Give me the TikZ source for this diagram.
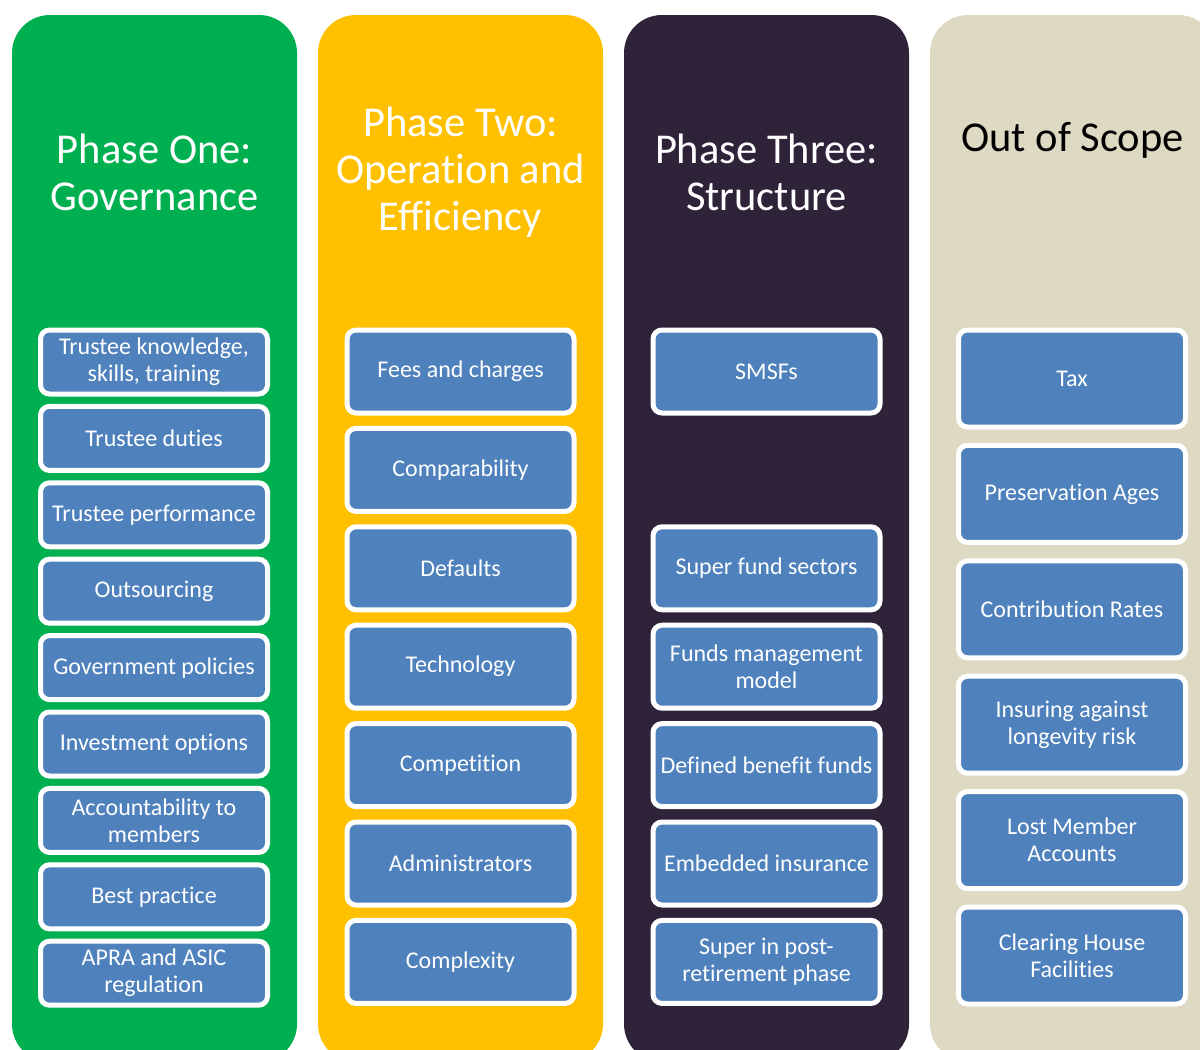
\documentclass[tikz,border=0pt]{standalone}
\usepackage{fontspec}
\setmainfont{Carlito}[Ligatures=NoCommon]
\definecolor{cgreen}{HTML}{00B050}
\definecolor{cyellow}{HTML}{FFC000}
\definecolor{cdark}{HTML}{2F2339}
\definecolor{ctan}{HTML}{DDD9C3}
\definecolor{cblue}{HTML}{4F81BD}
\begin{document}
\begin{tikzpicture}[x=1pt,y=-1pt,
  column/.style={rounded corners=38pt},
  title/.style={align=center,font=\fontsize{42.5}{47}\selectfont},
  item/.style={draw=white,line width=5pt,fill=cblue,rounded corners=9pt,text=white,
     align=center,font=\fontsize{24}{27}\selectfont,minimum width=227pt,inner sep=2pt},
  itemA/.style={item,minimum height=64pt},
  itemB/.style={item,minimum height=83pt},
  itemC/.style={item,minimum height=97pt}]
\useasboundingbox (0,0) rectangle (1200,1050);
\begin{scope}
\clip (0,0) rectangle (1200,1050);
\fill[cgreen,column] (12,15) rectangle (297,1062);
\fill[cyellow,column] (318,15) rectangle (603,1062);
\fill[cdark,column] (624,15) rectangle (909,1062);
\fill[ctan,column] (930,15) rectangle (1216,1062);
\end{scope}
% titles
\node[title,text=white] (t1) at (154.5,172) {Phase One:\\Governance};
\node[title,text=white] (t2) at (460.5,172) {Phase Two:\\Operation and\\Efficiency};
\node[title,text=white] (t3) at (766.5,172) {Phase Three:\\Structure};
\node[title,text=black] (t4) at (1072.5,140) {Out of Scope};
% column 1
\node[itemA] (a1) at (154,362) {Trustee knowledge,\\skills, training};
\node[itemA] (a2) at (154,438.4) {Trustee duties};
\node[itemA] (a3) at (154,514.8) {Trustee performance};
\node[itemA] (a4) at (154,591.2) {Outsourcing};
\node[itemA] (a5) at (154,667.6) {Government policies};
\node[itemA] (a6) at (154,744) {Investment options};
\node[itemA] (a7) at (154,820.4) {Accountability to\\members};
\node[itemA] (a8) at (154,896.8) {Best practice};
\node[itemA] (a9) at (154,973.2) {APRA and ASIC\\regulation};
% column 2
\node[itemB] (b1) at (460.5,371.5) {Fees and charges};
\node[itemB] (b2) at (460.5,469.9) {Comparability};
\node[itemB] (b3) at (460.5,568.3) {Defaults};
\node[itemB] (b4) at (460.5,666.7) {Technology};
\node[itemB] (b5) at (460.5,765.1) {Competition};
\node[itemB] (b6) at (460.5,863.5) {Administrators};
\node[itemB] (b7) at (460.5,961.9) {Complexity};
% column 3
\node[itemB] (c1) at (766.5,371.5) {SMSFs};
\node[itemB] (c2) at (766.5,568.3) {Super fund sectors};
\node[itemB] (c3) at (766.5,666.7) {Funds management\\model};
\node[itemB] (c4) at (766.5,765.1) {Defined benefit funds};
\node[itemB] (c5) at (766.5,863.5) {Embedded insurance};
\node[itemB] (c6) at (766.5,961.9) {Super in post-\\retirement phase};
% column 4
\node[itemC] (d1) at (1072,378.5) {Tax};
\node[itemC] (d2) at (1072,493.9) {Preservation Ages};
\node[itemC] (d3) at (1072,609.3) {Contribution Rates};
\node[itemC] (d4) at (1072,724.7) {Insuring against\\longevity risk};
\node[itemC] (d5) at (1072,840.1) {Lost Member\\Accounts};
\node[itemC] (d6) at (1072,955.5) {Clearing House\\Facilities};
\end{tikzpicture}
\end{document}
